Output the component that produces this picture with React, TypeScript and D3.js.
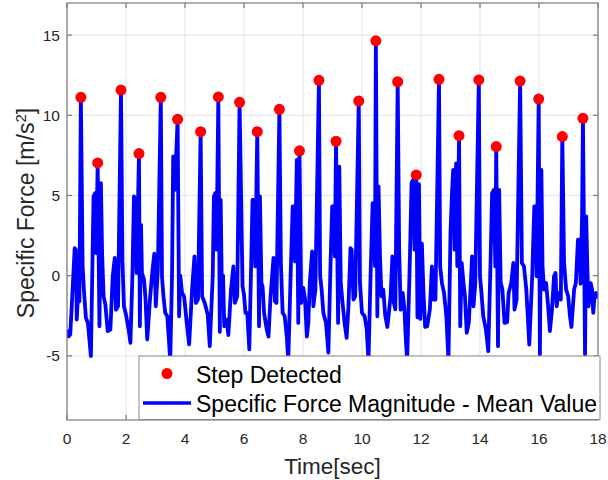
import React from 'react';
import * as d3 from 'd3';

const stepTimes = [0.47, 1.04, 1.83, 2.44, 3.18, 3.75, 4.53, 5.13, 5.85, 6.45, 7.2, 7.88, 8.54, 9.12, 9.89, 10.47, 11.21, 11.84, 12.61, 13.29, 13.96, 14.55, 15.36, 15.99, 16.79, 17.49];
const stepValues = [11.12, 7.03, 11.57, 7.61, 11.12, 9.75, 8.98, 11.14, 10.81, 8.98, 10.37, 7.78, 12.18, 8.38, 10.89, 14.64, 12.09, 6.28, 12.24, 8.73, 12.2, 8.05, 12.13, 11.01, 8.67, 9.81];

const signal: [number, number][] = [
  [0.00,-3.36],[0.06,-3.78],[0.11,-3.67],[0.19,-0.87],[0.26,1.72],[0.30,1.62],[0.33,-2.74],[0.37,-1.29],[0.42,-1.60],[0.47,11.12],
  [0.53,0.58],[0.58,-1.08],[0.64,-2.63],[0.71,-2.95],[0.81,-5.02],[0.90,4.94],[0.96,5.15],[0.99,1.41],[1.04,7.03],[1.10,-3.15],
  [1.15,5.77],[1.19,1.41],[1.24,-1.29],[1.30,-1.80],[1.38,-3.46],[1.47,-3.36],[1.55,-0.04],[1.62,1.10],[1.66,-2.12],[1.73,-1.91],
  [1.83,11.57],[1.88,0.89],[1.93,-1.91],[2.00,-2.43],[2.09,-3.36],[2.15,-4.19],[2.22,0.17],[2.27,4.94],[2.32,4.73],[2.36,0.17],
  [2.44,7.61],[2.47,-3.15],[2.51,3.17],[2.54,0.17],[2.61,-0.25],[2.66,-1.39],[2.72,-3.98],[2.82,-1.29],[2.90,0.37],[2.96,1.37],
  [3.01,-1.91],[3.08,0.37],[3.18,11.12],[3.22,-0.04],[3.27,-1.29],[3.33,-2.32],[3.40,-2.53],[3.50,-5.3],[3.56,-0.04],[3.60,7.43],
  [3.65,5.35],[3.69,7.0],[3.75,9.75],[3.80,-2.53],[3.84,0.0],[3.90,-1.08],[3.97,-1.29],[4.06,-2.95],[4.14,-4.29],[4.24,-0.87],
  [4.32,1.2],[4.37,-1.7],[4.44,-1.49],[4.53,8.98],[4.58,-1.29],[4.67,-1.7],[4.77,-2.43],[4.84,-4.4],[4.94,-0.04],[4.98,4.94],
  [5.03,5.15],[5.07,1.62],[5.13,11.14],[5.18,-3.5],[5.21,4.73],[5.25,-1.08],[5.29,0.0],[5.33,-3.15],[5.41,-2.74],[5.47,-3.7],
  [5.56,-0.87],[5.64,0.58],[5.69,-1.7],[5.77,-1.29],[5.85,10.81],[5.95,-0.66],[6.00,-1.18],[6.05,-2.32],[6.11,-2.32],[6.18,-4.6],
  [6.29,4.73],[6.34,4.73],[6.38,0.58],[6.45,8.98],[6.51,-3.15],[6.54,4.94],[6.59,-0.46],[6.63,-0.66],[6.68,-2.32],[6.77,-3.36],
  [6.83,-3.8],[6.90,-1.29],[7.00,1.1],[7.05,-1.6],[7.10,-1.7],[7.20,10.37],[7.25,0.79],[7.31,-2.32],[7.38,-2.53],[7.45,-3.78],
  [7.50,-5.3],[7.58,-0.04],[7.65,4.32],[7.69,4.32],[7.73,0.89],[7.79,7.22],[7.84,-2.95],[7.88,7.78],[7.94,-1.7],[8.01,-0.77],
  [8.07,-1.49],[8.13,-3.8],[8.18,-2.95],[8.23,-0.46],[8.31,1.51],[8.35,-1.91],[8.42,-0.87],[8.54,12.18],[8.58,0.0],[8.63,-0.83],
  [8.69,-2.32],[8.78,-2.95],[8.86,-4.8],[8.94,1.2],[8.99,4.32],[9.03,4.32],[9.08,1.2],[9.12,8.38],[9.19,-2.95],[9.23,6.8],
  [9.28,-0.46],[9.34,-1.7],[9.41,-2.95],[9.48,-3.88],[9.54,-1.91],[9.61,1.72],[9.65,1.62],[9.71,-1.49],[9.77,-1.29],[9.89,10.89],
  [9.93,-0.46],[10.00,-2.32],[10.09,-2.53],[10.16,-3.36],[10.22,-5.3],[10.29,-0.04],[10.36,4.52],[10.41,4.52],[10.44,0.6],[10.47,14.64],
  [10.52,-2.53],[10.56,5.56],[10.61,1.2],[10.66,-1.29],[10.72,-0.87],[10.79,-2.53],[10.86,-3.2],[10.97,-1.29],[11.03,1.2],[11.08,-1.7],
  [11.13,-2.1],[11.21,12.09],[11.26,1.62],[11.31,-2.12],[11.38,-1.08],[11.44,-2.12],[11.48,-3.78],[11.53,-5.3],[11.62,0.79],[11.68,5.77],
  [11.73,5.97],[11.78,1.62],[11.84,6.28],[11.88,-2.6],[11.93,5.7],[11.98,-2.7],[12.03,2.0],[12.08,-0.87],[12.14,-3.2],[12.21,-3.15],
  [12.30,-2.12],[12.37,0.58],[12.42,-1.49],[12.49,-1.49],[12.61,12.24],[12.65,0.58],[12.71,-0.46],[12.78,-1.08],[12.86,-2.53],[12.93,-5.3],
  [13.00,2.66],[13.05,5.15],[13.09,6.6],[13.14,1.62],[13.19,7.0],[13.23,0.6],[13.29,8.73],[13.33,-3.15],[13.38,0.79],[13.44,-0.46],
  [13.49,-1.29],[13.55,-3.57],[13.62,-2.95],[13.69,-0.46],[13.73,1.2],[13.78,-1.91],[13.84,-0.46],[13.96,12.2],[14.00,-0.04],[14.05,-1.08],
  [14.11,-2.53],[14.20,-3.36],[14.28,-4.71],[14.36,1.0],[14.41,5.15],[14.47,5.35],[14.52,0.58],[14.55,8.05],[14.61,-4.4],[14.65,5.35],
  [14.70,-0.4],[14.76,-0.87],[14.83,-2.95],[14.92,-2.9],[14.97,-1.08],[15.06,-0.46],[15.13,0.79],[15.17,-2.12],[15.24,-1.49],[15.36,12.13],
  [15.42,0.79],[15.49,0.58],[15.57,-0.87],[15.62,-2.53],[15.67,-4.3],[15.77,-0.04],[15.84,4.32],[15.88,4.32],[15.92,-0.04],[15.99,11.01],
  [16.03,-4.9],[16.08,6.6],[16.12,0.58],[16.17,-0.87],[16.24,-0.46],[16.31,-1.91],[16.37,-3.46],[16.44,-2.12],[16.51,-0.04],[16.56,0.17],
  [16.60,-1.91],[16.65,-1.08],[16.74,-1.49],[16.79,8.67],[16.85,0.79],[16.92,-0.87],[16.99,-1.29],[17.05,-2.53],[17.10,-3.2],[17.19,-0.87],
  [17.25,-0.46],[17.32,2.24],[17.37,2.24],[17.41,-0.5],[17.46,3.69],[17.49,9.81],[17.56,-4.9],[17.60,3.69],[17.64,0.4],[17.68,-1.91],
  [17.75,-0.46],[17.80,-0.87],[17.84,-2.32],[17.88,-1.29],[17.93,-1.08],[17.96,-1.29],[18.00,-1.39]
];

const xTicks = [0, 2, 4, 6, 8, 10, 12, 14, 16, 18];
const yTicks = [-5, 0, 5, 10, 15];
const legendLabels = ['Step Detected', 'Specific Force Magnitude - Mean Value'];
const xLabel = 'Time[sec]';

export default function App() {
  const W = 608, H = 480;
  const L = 67, R = 598, T = 3, B = 420;
  const x = d3.scaleLinear().domain([0, 18]).range([L, R]);
  const y = d3.scaleLinear().domain([-9, 17]).range([B, T]);
  const line = d3.line<[number, number]>().x(d => x(d[0])).y(d => y(d[1]));
  const font = "'Liberation Sans', Arial, Helvetica, sans-serif";
  const txt = '#262626';
  const axisC = '#7a7a7a';
  const tl = 5;

  return (
    <svg width={W} height={H} style={{ position: 'absolute', left: 0, top: 0, background: '#fff' }} fontFamily={font}>
      <rect x={0} y={0} width={W} height={H} fill="#fff" />
      <defs>
        <clipPath id="plotClip"><rect x={L} y={T} width={R - L} height={B - T} /></clipPath>
      </defs>
      {xTicks.map(t => (
        <line key={'gx' + t} x1={x(t)} x2={x(t)} y1={T} y2={B} stroke="#e3e3e3" strokeWidth={1} />
      ))}
      {yTicks.map(t => (
        <line key={'gy' + t} x1={L} x2={R} y1={y(t)} y2={y(t)} stroke="#e3e3e3" strokeWidth={1} />
      ))}
      <g clipPath="url(#plotClip)">
        <path d={line(signal) || ''} fill="none" stroke="#0000ff" strokeWidth={3.8} strokeLinejoin="round" />
        {stepTimes.map((t, i) => (
          <circle key={'s' + i} cx={x(t)} cy={y(stepValues[i])} r={5.5} fill="#ff0000" />
        ))}
      </g>
      <rect x={L} y={T} width={R - L} height={B - T} fill="none" stroke={axisC} strokeWidth={1.2} />
      {xTicks.map(t => (
        <g key={'tx' + t}>
          <line x1={x(t)} x2={x(t)} y1={B} y2={B - tl} stroke={axisC} strokeWidth={1.2} />
          <line x1={x(t)} x2={x(t)} y1={T} y2={T + tl} stroke={axisC} strokeWidth={1.2} />
          <text x={x(t)} y={444} textAnchor="middle" fontSize={15.5} fill={txt}>{t}</text>
        </g>
      ))}
      {yTicks.map(t => (
        <g key={'ty' + t}>
          <line x1={L} x2={L + tl} y1={y(t)} y2={y(t)} stroke={axisC} strokeWidth={1.2} />
          <line x1={R} x2={R - tl} y1={y(t)} y2={y(t)} stroke={axisC} strokeWidth={1.2} />
          <text x={60} y={y(t) + 5.5} textAnchor="end" fontSize={15.5} fill={txt}>{t}</text>
        </g>
      ))}
      <text x={(L + R) / 2} y={474} textAnchor="middle" fontSize={22.5} fill={txt}>{xLabel}</text>
      <text transform={`translate(33.5, ${213}) rotate(-90)`} textAnchor="middle" fontSize={23} fill={txt}>
        Specific Force [m/s<tspan baselineShift="super" fontSize={15}>2</tspan>]
      </text>
      <rect x={139} y={356} width={461} height={63.5} fill="#fff" stroke="#8c8c8c" strokeWidth={1} />
      <circle cx={167} cy={373.5} r={5.5} fill="#ff0000" />
      <text x={196} y={383.3} fontSize={23} fill="#000">{legendLabels[0]}</text>
      <line x1={143} x2={191} y1={403} y2={403} stroke="#0000ff" strokeWidth={3.6} />
      <text x={196} y={411.7} fontSize={23} fill="#000">{legendLabels[1]}</text>
    </svg>
  );
}
